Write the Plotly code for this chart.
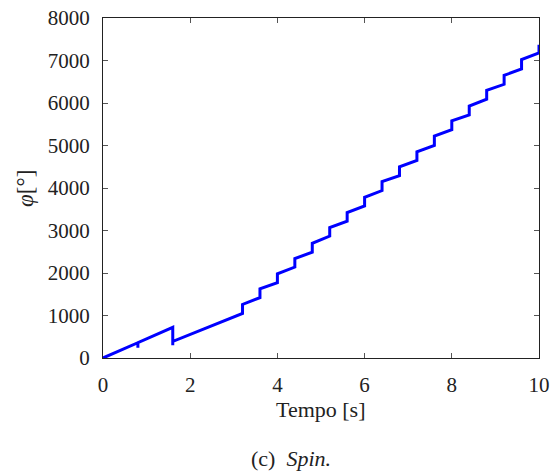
import plotly.graph_objects as go

# --- data ---
# initial part (0 - 3.2 s)
t_start = [0.0, 0.8, 0.8, 0.8, 1.6, 1.6, 1.6]
phi_start = [0, 360, 240, 360, 720, 300, 390]
# periodic stepping part: at each step time the curve arrives at seg_end, then jumps to seg_start
step_t = [3.2, 3.6, 4.0, 4.4, 4.8, 5.2, 5.6, 6.0, 6.4, 6.8, 7.2, 7.6, 8.0, 8.4, 8.8, 9.2, 9.6, 10.0]
seg_end = [1050, 1420, 1770, 2140, 2490, 2870, 3220, 3580, 3940, 4290, 4650, 5000, 5370, 5720, 6090, 6440, 6800, 7180]
seg_start = [1260, 1630, 1980, 2340, 2700, 3070, 3420, 3780, 4150, 4500, 4850, 5220, 5580, 5930, 6300, 6650, 7020, 7370]

x_ticks = [0, 2, 4, 6, 8, 10]
y_ticks = [0, 1000, 2000, 3000, 4000, 5000, 6000, 7000, 8000]

t = list(t_start)
phi = list(phi_start)
for st, e, s in zip(step_t, seg_end, seg_start):
    t += [st, st]
    phi += [e, s]

FONT = "'Liberation Serif', 'Times New Roman', serif"
FS = 21
FT = 23
TXT = "#222222"

fig = go.Figure()
fig.add_trace(go.Scatter(x=t, y=phi, mode="lines",
                         line=dict(color="#0000ff", width=3), showlegend=False))

axis_common = dict(
    showgrid=False, zeroline=False, showline=True, linecolor="#222222", linewidth=1,
    mirror="ticks", ticks="inside", ticklen=5, tickcolor="#555555", tickwidth=1,
    tickfont=dict(family=FONT, size=FS, color=TXT),
    ticklabelstandoff=8, automargin=False,
)

fig.update_layout(
    width=550, height=476,
    margin=dict(l=103, r=11, t=18, b=118),
    paper_bgcolor="white", plot_bgcolor="white",
    font=dict(family=FONT, size=FS, color=TXT),
    xaxis=dict(range=[0, 10], tickvals=x_ticks, ticktext=[str(v) for v in x_ticks],
               **axis_common),
    yaxis=dict(range=[0, 8000], tickvals=y_ticks, ticktext=[str(v) for v in y_ticks],
               **axis_common),
    annotations=[
        dict(text="Tempo [s]", xref="paper", yref="paper", x=0.5, y=-0.152,
             xanchor="center", yanchor="middle", showarrow=False,
             font=dict(family=FONT, size=22, color=TXT)),
        dict(text="<i>φ</i>[°]", xref="paper", yref="paper", x=-0.179, y=0.5,
             xanchor="center", yanchor="middle", textangle=-90, showarrow=False,
             font=dict(family=FONT, size=FT, color=TXT)),
        dict(text="(c)  <i>Spin.</i>", xref="paper", yref="paper",
             x=0.431, y=-0.297, xanchor="center", yanchor="middle",
             showarrow=False, font=dict(family=FONT, size=22, color=TXT)),
    ],
)

fig.write_html("out.html")
